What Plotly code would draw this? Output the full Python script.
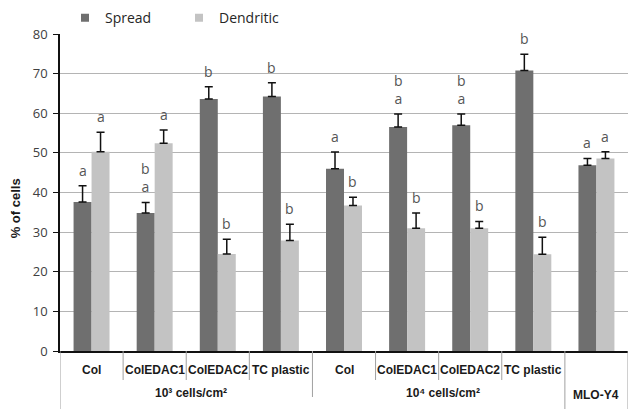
import plotly.graph_objects as go

# ---------------- data ----------------
categories = ["Col", "ColEDAC1", "ColEDAC2", "TC plastic",
              "Col", "ColEDAC1", "ColEDAC2", "TC plastic", "MLO-Y4"]
group_labels = ["10³ cells/cm²", "10⁴ cells/cm²"]
group_members = [[0, 1, 2, 3], [4, 5, 6, 7]]

spread = [37.6, 34.8, 63.6, 64.2, 46.0, 56.5, 57.0, 70.8, 46.9]
spread_err = [4.1, 2.7, 3.1, 3.5, 4.2, 3.3, 2.8, 4.1, 1.7]
dendritic = [50.3, 52.4, 24.5, 27.9, 36.7, 31.0, 31.0, 24.4, 48.6]
dendritic_err = [4.9, 3.4, 3.7, 4.1, 2.1, 3.8, 1.7, 4.3, 1.7]

# significance letters, listed top-to-bottom
spread_letters = [["a"], ["b", "a"], ["b"], ["b"], ["a"], ["b", "a"], ["b", "a"], ["b"], ["a"]]
dendritic_letters = [["a"], ["a"], ["b"], ["b"], ["b"], ["b"], ["b"], ["b"], ["a"]]

y_ticks = [0, 10, 20, 30, 40, 50, 60, 70, 80]

# ---------------- style ----------------
C_SPREAD = "#6f6f6f"
C_DEND = "#c3c3c3"
BARGAP = 0.43
PLOT_H = 317  # px height of plot area
PLOT_W = 568
TICK_FONT = "Open Sans"
LABEL_FONT = "Liberation Sans, Arial"
LBL = dict(family=LABEL_FONT, size=12, color="#1a1a1a", weight="bold")

x = list(range(len(categories)))

fig = go.Figure()
for name, vals, errs, col in [("Spread", spread, spread_err, C_SPREAD),
                              ("Dendritic", dendritic, dendritic_err, C_DEND)]:
    fig.add_trace(go.Bar(
        x=x, y=vals, name=name, marker=dict(color=col, line=dict(width=0)),
        showlegend=False,
        error_y=dict(type="data", array=errs, arrayminus=[0] * len(errs),
                     symmetric=False, color="#111111", thickness=1.5, width=4),
    ))
    # legend entry with small square marker
    fig.add_trace(go.Scatter(
        x=[None], y=[None], mode="markers", name=name,
        marker=dict(symbol="square", size=8, color=col),
    ))

# letters above error bars
half = (1 - BARGAP) / 4.0
annotations = []
for vals, errs, letters, off in [(spread, spread_err, spread_letters, -half),
                                 (dendritic, dendritic_err, dendritic_letters, half)]:
    for i in x:
        annotations.append(dict(
            x=i + off, y=vals[i] + errs[i], xref="x", yref="y",
            text="<br>".join(letters[i]), showarrow=False, yanchor="bottom",
            yshift=4,
            font=dict(family=TICK_FONT, size=14, color="#555555"),
        ))

def below(px):
    return -px / PLOT_H

# category labels (first row)
for i, c in enumerate(categories):
    if i == 8:
        continue
    annotations.append(dict(
        x=i, y=below(19), xref="x", yref="paper", text=c, showarrow=False,
        yanchor="middle", font=LBL,
    ))
# MLO-Y4 on second row
annotations.append(dict(
    x=8, y=below(44), xref="x", yref="paper", text=categories[8], showarrow=False,
    yanchor="middle", font=LBL,
))
# group labels
for lab, mem in zip(group_labels, group_members):
    annotations.append(dict(
        x=sum(mem) / len(mem) + 0.07, y=below(42), xref="x", yref="paper",
        text=lab, showarrow=False, yanchor="middle", font=LBL,
    ))
# y-axis title
annotations.append(dict(
    x=-45 / PLOT_W, y=0.45, xref="paper", yref="paper", text="% of cells",
    showarrow=False, textangle=-90, xanchor="center", yanchor="middle",
    font=dict(family=LABEL_FONT, size=13, color="#1a1a1a", weight="bold"),
))

# separator lines under the axis
shapes = []
inner = [0.5, 1.5, 2.5, 4.5, 5.5, 6.5]
mid = [3.5]
outer = [-0.5, 7.5, 8.5]
for xs, L in [(inner, 29), (mid, 46), (outer, 58)]:
    for xv in xs:
        shapes.append(dict(type="line", xref="x", yref="paper", x0=xv, x1=xv,
                           y0=0, y1=below(L), line=dict(color="#a0a0a0", width=1)))

# the page adds an 8px body margin, so the figure is 8px smaller
fig.update_layout(
    width=629, height=411,
    margin=dict(l=52, r=9, t=26, b=68, autoexpand=False),
    paper_bgcolor="white", plot_bgcolor="white",
    barmode="group", bargap=BARGAP, bargroupgap=0,
    annotations=annotations, shapes=shapes,
    legend=dict(orientation="h", x=5 / PLOT_W, xanchor="left", y=1.05, yanchor="middle",
                entrywidth=69, entrywidthmode="pixels",
                font=dict(family=TICK_FONT, size=14, color="#262626"),
                bgcolor="rgba(0,0,0,0)", itemclick=False),
    xaxis=dict(range=[-0.5, 8.5], showticklabels=False, ticks="",
               showline=True, linecolor="#111111", linewidth=1.5,
               showgrid=False, zeroline=False, fixedrange=True),
    yaxis=dict(range=[0, 80], tickvals=y_ticks, ticks="outside", ticklen=5,
               tickcolor="#111111", showline=True, linecolor="#111111", linewidth=1.5,
               showgrid=True, gridcolor="#b4b4b4", gridwidth=1, zeroline=False,
               tickfont=dict(family=TICK_FONT, size=13, color="#404040"),
               ticklabelstandoff=3),
    showlegend=True,
)

fig.write_html("out.html")
